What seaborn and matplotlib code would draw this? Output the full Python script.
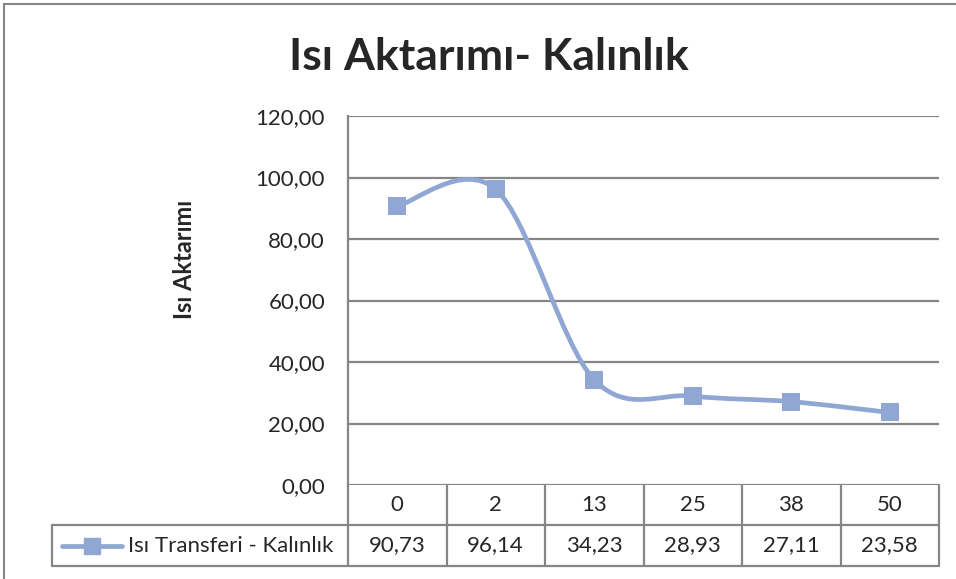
import numpy as np
import pandas as pd
import matplotlib
matplotlib.use("Agg")
import matplotlib.pyplot as plt
import seaborn as sns
from matplotlib.path import Path
from matplotlib.patches import PathPatch, Rectangle

# chart data
categories = ["0", "2", "13", "25", "38", "50"]
values = [90.73, 96.14, 34.23, 28.93, 27.11, 23.58]
series_name = "Isı Transferi - Kalınlık"
y_ticks = [0, 20, 40, 60, 80, 100, 120]

df = pd.DataFrame({"kalinlik": categories, "aktarim": values})
df["pos"] = range(len(df))

sns.set_style("white")
plt.rcParams["font.family"] = ["Lato", "DejaVu Sans"]

line_color = "#8FA7D2"
grid_color = "#868686"
fs = 16

fig = plt.figure(figsize=(9.56, 5.79), dpi=100)
ax = fig.add_axes([348 / 956, 94 / 579, 591 / 956, 369 / 579])

# outer chart border
fig.add_artist(Rectangle((4 / 956, -0.05), 1.2, 575 / 579 + 0.05, transform=fig.transFigure,
                         fill=False, edgecolor=grid_color, lw=1.5))

# smoothed line (Catmull-Rom style bezier, like Excel's smoothing)
x = df["pos"].to_numpy(dtype=float)
y = df["aktarim"].to_numpy(dtype=float)
px = np.concatenate([[x[0]], x, [x[-1]]])
py = np.concatenate([[y[0]], y, [y[-1]]])
verts = [(x[0], y[0])]
codes = [Path.MOVETO]
for i in range(1, len(px) - 2):
    c1 = (px[i] + (px[i + 1] - px[i - 1]) / 6, py[i] + (py[i + 1] - py[i - 1]) / 6)
    c2 = (px[i + 1] - (px[i + 2] - px[i]) / 6, py[i + 1] - (py[i + 2] - py[i]) / 6)
    verts += [c1, c2, (px[i + 1], py[i + 1])]
    codes += [Path.CURVE4] * 3
ax.add_patch(PathPatch(Path(verts, codes), fill=False, edgecolor=line_color, lw=3.4,
                       capstyle="round", joinstyle="round", zorder=3))

sns.scatterplot(data=df, x="pos", y="aktarim", marker="s", s=185, color=line_color,
                edgecolor=line_color, linewidth=0, ax=ax, zorder=4, legend=False)

ax.set_xlim(-0.5, len(categories) - 0.5)
ax.set_ylim(0, 120)
ax.set_yticks(y_ticks)
ax.set_yticklabels([f"{v:.2f}".replace(".", ",") for v in y_ticks], fontsize=fs)
ax.set_xticks([])
ax.set_xlabel("")
ax.set_ylabel("Isı Aktarımı", fontsize=17, fontweight="bold")
ax.yaxis.set_label_coords(-0.258, 0.61)
ax.tick_params(axis="y", length=0, pad=16.5)
for yt in y_ticks:
    ax.axhline(yt, color=grid_color, lw=1.6, zorder=1)
for s in ["top", "right", "bottom"]:
    ax.spines[s].set_visible(False)
ax.spines["left"].set_color(grid_color)
ax.spines["left"].set_linewidth(1.6)

fig.text(489 / 956, 1 - 57 / 579, "Isı Aktarımı- Kalınlık", ha="center", va="center",
         fontsize=32, fontweight="bold")

# data table under the axis
r1 = -40 / 369
r2 = -81 / 369
left_cell = -296 / 591
tkw = dict(color=grid_color, lw=1.6, clip_on=False, transform=ax.transAxes)
ax.plot([left_cell, 1], [r1, r1], **tkw)
ax.plot([left_cell, 1], [r2, r2], **tkw)
ax.plot([left_cell, left_cell], [r1, r2], **tkw)
n = len(categories)
for k in range(n + 1):
    ax.plot([k / n, k / n], [0, r2], **tkw)

for i, (c, v) in enumerate(zip(categories, values)):
    xc = (i + 0.5) / n
    ax.text(xc, r1 / 2, c, ha="center", va="center", fontsize=fs, transform=ax.transAxes)
    ax.text(xc, (r1 + r2) / 2, f"{v:.2f}".replace(".", ","), ha="center", va="center",
            fontsize=fs, transform=ax.transAxes)

# legend key inside the table
ym = (r1 + r2) / 2
ax.plot([-286 / 591, -226 / 591], [ym, ym], color=line_color, lw=3.4, clip_on=False,
        transform=ax.transAxes, solid_capstyle="round")
ax.plot([-256 / 591], [ym], marker="s", markersize=12, color=line_color, clip_on=False,
        transform=ax.transAxes)
ax.text(-220 / 591, ym, series_name, ha="left", va="center", fontsize=fs,
        transform=ax.transAxes)

fig.savefig("out.png", dpi=100)
